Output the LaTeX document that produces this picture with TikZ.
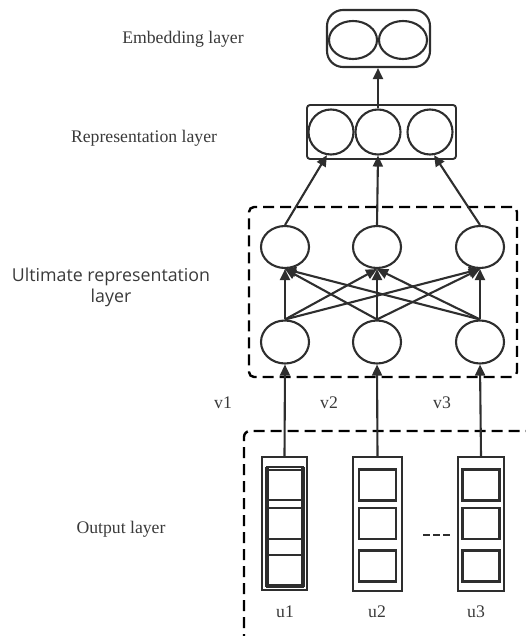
\documentclass[tikz,border=0pt]{standalone}
\usepackage{fontspec}
\setmainfont{Liberation Serif}
\newfontfamily\uisans{Open Sans}
\usetikzlibrary{arrows.meta,shapes.geometric}
\definecolor{ink}{HTML}{2E2E2E}
\definecolor{txt}{HTML}{3A3A3A}
\begin{document}
\begin{tikzpicture}[x=1pt,y=-1pt,
  lbl/.style={font=\fontsize{17.7}{20}\selectfont, text=txt, inner sep=0pt},
  sanslbl/.style={font=\uisans\fontsize{17.8}{21}\selectfont, text=txt, inner sep=0pt, align=center},
  unit/.style={ellipse, draw=ink, line width=2.1pt, inner sep=0pt},
  arr/.style={draw=ink, line width=2.1pt, -{Triangle[length=11pt,width=10pt]}},
  dbox/.style={draw=black, line width=2.4pt, dash pattern=on 11pt off 6pt},
  ubox/.style={draw=ink, line width=1.9pt, inner sep=0pt},
  usq/.style={draw=ink, line width=2.3pt, minimum width=37pt, minimum height=31pt, inner sep=0pt},
]
\useasboundingbox (0,0) rectangle (526,636);

% embedding layer
\node[draw=ink, line width=2.1pt, rounded corners=16pt, minimum width=103pt, minimum height=57pt] (embbox) at (378.5,38.5) {};
\node[unit, minimum width=48pt, minimum height=38pt] (e1) at (353,40) {};
\node[unit, minimum width=48pt, minimum height=38pt] (e2) at (403,40) {};

% representation layer
\node[draw=ink, line width=1.9pt, rounded corners=3pt, minimum width=149pt, minimum height=54pt] (repbox) at (381.5,132) {};
\node[unit, minimum width=45pt, minimum height=45pt] (rep1) at (331,132) {};
\node[unit, minimum width=45pt, minimum height=45pt] (rep2) at (378,132) {};
\node[unit, minimum width=45pt, minimum height=45pt] (rep3) at (430,132) {};

% ultimate representation layer
\node[dbox, rounded corners=5pt, minimum width=268pt, minimum height=170pt] (ultbox) at (383,292) {};
\node[unit, minimum width=48pt, minimum height=42pt] (up1) at (285,247) {};
\node[unit, minimum width=48pt, minimum height=42pt] (up2) at (377,247) {};
\node[unit, minimum width=48pt, minimum height=42pt] (up3) at (480,247) {};
\node[unit, minimum width=48pt, minimum height=43pt] (low1) at (285,342) {};
\node[unit, minimum width=48pt, minimum height=43pt] (low2) at (377,342) {};
\node[unit, minimum width=48pt, minimum height=43pt] (low3) at (480,342) {};

% output layer boxes
\node[ubox, minimum width=45pt, minimum height=133pt] (ub1) at (284.5,523.5) {};
\node[ubox, minimum width=49pt, minimum height=134pt] (ub2) at (377.5,524) {};
\node[ubox, minimum width=46pt, minimum height=134pt] (ub3) at (481,524) {};

\draw[ink, line width=1.4pt] (267,467) rectangle (303,587);
\draw[ink, line width=3.4pt] (267,467) -- (267,587);
\draw[ink, line width=3.4pt] (303,467) -- (303,587);
\node[usq, line width=2.6pt, minimum height=30pt] (s11) at (285,485) {};
\node[usq, line width=2.6pt] (s12) at (285,523.5) {};
\node[usq, line width=2.6pt, minimum height=30pt] (s13) at (285,570) {};

\node[usq] (s21) at (377.5,485) {};
\node[usq] (s22) at (377.5,523.5) {};
\node[usq] (s23) at (377.5,566) {};

\node[usq] (s31) at (481,485) {};
\node[usq] (s32) at (481,523.5) {};
\node[usq] (s33) at (481,566) {};

% open dashed frame of the output layer
\draw[dbox, rounded corners=6pt] (244,645) -- (244,431) -- (535,431);

% dashes between boxes
\draw[ink, line width=1.7pt, dash pattern=on 7pt off 3pt] (423,535) -- (450,535);

% connectors
\draw[arr] (ub1.north) -- (low1.south);
\draw[arr] (ub2.north) -- (low2.south);
\draw[arr] (ub3.north) -- (low3.south);
\foreach \i in {1,2,3}{
  \foreach \j in {1,2,3}{
    \draw[arr] (low\i.north) -- (up\j.south);
  }
}
\draw[arr] (up1.north) -- (rep1.-100);
\draw[arr] (up2.north) -- (rep2.south);
\draw[arr] (up3.north) -- (rep3.-80);
\draw[arr] (rep2.north) -- (rep2.north |- embbox.south);

% labels
\node[lbl] (embl) at (183,39) {Embedding layer};
\node[lbl] (repl) at (144,138) {Representation layer};
\node[sanslbl] (ultl) at (111,287.5) {Ultimate representation\\layer};
\node[lbl] (outl) at (121,529) {Output layer};
\node[lbl] (v1) at (223,403) {v1};
\node[lbl] (v2) at (329,403) {v2};
\node[lbl] (v3) at (442,403) {v3};
\node[lbl] (u1) at (285,612) {u1};
\node[lbl] (u2) at (377,612) {u2};
\node[lbl] (u3) at (476,612) {u3};
\end{tikzpicture}
\end{document}
